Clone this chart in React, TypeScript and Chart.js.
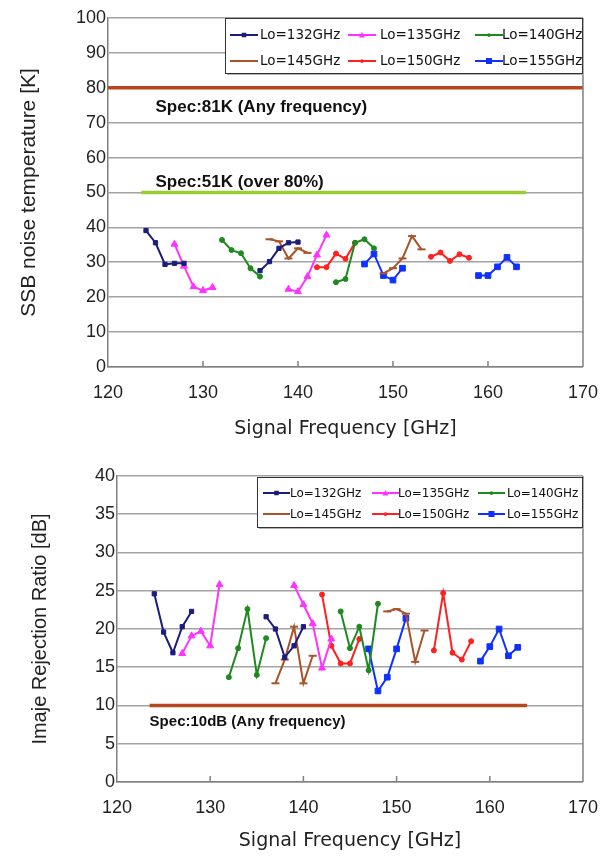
import React, { useEffect, useRef } from "react";
import { Chart, registerables } from "chart.js";

Chart.register(...registerables);

// ---------- data ----------
const loLabels = ["Lo=132GHz", "Lo=135GHz", "Lo=140GHz", "Lo=145GHz", "Lo=150GHz", "Lo=155GHz"];

const freq132 = [124, 125, 126, 127, 128, 132, 136, 137, 138, 139, 140];
const freq135 = [127, 128, 129, 130, 131, 135, 139, 140, 141, 142, 143];
const freq140 = [132, 133, 134, 135, 136, 140, 144, 145, 146, 147, 148];
const freq145 = [137, 138, 139, 140, 141, 145, 149, 150, 151, 152, 153];
const freq150 = [142, 143, 144, 145, 146, 150, 154, 155, 156, 157, 158];
const freq155 = [147, 148, 149, 150, 151, 155, 159, 160, 161, 162, 163];

// SSB noise temperature [K] (null = gap between LSB and USB)
const nt132 = [39.1, 35.6, 29.4, 29.7, 29.7, null, 27.6, 30.2, 34.0, 35.6, 35.8];
const nt135 = [35.2, 28.9, 23.0, 21.9, 22.8, null, 22.3, 21.6, 25.9, 32.1, 37.8];
const nt140 = [36.4, 33.5, 32.6, 28.3, 25.9, null, 24.3, 25.2, 35.6, 36.6, 34.0];
const nt145 = [36.6, 36.0, 31.1, 34.0, 32.7, null, 26.8, 28.3, 31.1, 37.5, 33.7];
const nt150 = [28.6, 28.6, 32.5, 31.0, 35.6, null, 31.6, 32.8, 30.4, 32.3, 31.3];
const nt155 = [29.5, 32.4, 26.2, 24.9, 28.3, null, 26.2, 26.2, 28.7, 31.4, 28.7];

// Image rejection ratio [dB]
const irr132 = [24.6, 19.6, 16.9, 20.3, 22.3, null, 21.6, 20.0, 16.3, 17.8, 20.3];
const irr135 = [16.8, 19.1, 19.7, 17.8, 25.8, null, 25.7, 23.2, 20.7, 14.9, 18.7];
const irr140 = [13.7, 17.5, 22.6, 14.0, 18.8, null, 22.3, 17.5, 20.3, 14.6, 23.3];
const irr145 = [12.9, 16.0, 20.3, 12.9, 16.5, null, 22.3, 22.6, 22.0, 15.7, 19.8];
const irr150 = [24.5, 17.8, 15.5, 15.5, 18.7, null, 17.2, 24.7, 16.9, 16.0, 18.4];
const irr155 = [17.4, 11.9, 13.7, 17.4, 21.4, null, 15.8, 17.7, 20.0, 16.5, 17.6];

// spec lines
const specNtAnyFreq = [120, 170];
const specNtAnyVal = [80, 80];
const specNt80Freq = [123.5, 164];
const specNt80Val = [50, 50];
const specIrrFreq = [123.5, 164];
const specIrrVal = [10, 10];

const specNtAnyText = "Spec:81K (Any frequency)";
const specNt80Text = "Spec:51K (over 80%)";
const specIrrText = "Spec:10dB (Any frequency)";

const xMin = 120;
const xMax = 170;

// ---------- styles ----------
const seriesStyles = [
  { color: "#1c1c7c", pointStyle: "rect", r: 3 },
  { color: "#ff33ff", pointStyle: "triangle", r: 4 },
  { color: "#1e8a1e", pointStyle: "circle", r: 2.5 },
  { color: "#a8532a", pointStyle: "line", r: 4 },
  { color: "#ff2020", pointStyle: "circle", r: 2.5 },
  { color: "#1030ff", pointStyle: "rect", r: 4 },
];
const specBrown = "#b8461b";
const specGreen = "#99cc33";
const FONT = "'Liberation Sans', Arial, sans-serif";

function pts(xs: number[], ys: (number | null)[]) {
  return xs.map((x, i) => ({ x, y: ys[i] }));
}

function drawMarker(ctx: CanvasRenderingContext2D, style: string, x: number, y: number, r: number, color: string) {
  ctx.save();
  ctx.fillStyle = color;
  ctx.strokeStyle = color;
  ctx.lineWidth = 1.5;
  ctx.beginPath();
  if (style === "rect") {
    ctx.fillRect(x - r, y - r, 2 * r, 2 * r);
  } else if (style === "triangle") {
    ctx.moveTo(x, y - r);
    ctx.lineTo(x + r, y + r * 0.8);
    ctx.lineTo(x - r, y + r * 0.8);
    ctx.closePath();
    ctx.fill();
  } else if (style === "circle") {
    ctx.arc(x, y, r, 0, Math.PI * 2);
    ctx.fill();
  }
  ctx.restore();
}

type LegendCfg = {
  w: number; h: number; rightOff: number; topOff: number;
  rows: number[]; lineX: number[]; textX: number[]; lineLen: number; font: string;
};

type SpecLabel = { x: number; y: number; text: string };

function makeOverlay(id: string, legend: LegendCfg, labels: SpecLabel[], labelFont: string) {
  return {
    id,
    afterDraw(chart: any) {
      const ctx: CanvasRenderingContext2D = chart.ctx;
      const a = chart.chartArea;
      const xs = chart.scales.x;
      const ys = chart.scales.y;
      ctx.save();
      // right frame
      ctx.strokeStyle = "#808080";
      ctx.lineWidth = 1.5;
      ctx.beginPath();
      ctx.moveTo(a.right, a.top);
      ctx.lineTo(a.right, a.bottom);
      ctx.stroke();
      // inner x ticks
      xs.ticks.forEach((t: any) => {
        if (t.value <= xMin || t.value >= xMax) return;
        const px = xs.getPixelForValue(t.value);
        ctx.beginPath();
        ctx.moveTo(px, a.bottom);
        ctx.lineTo(px, a.bottom - 6);
        ctx.stroke();
      });
      // spec labels
      ctx.fillStyle = "#111";
      ctx.font = labelFont;
      ctx.textAlign = "left";
      ctx.textBaseline = "middle";
      labels.forEach((l) => {
        ctx.fillText(l.text, xs.getPixelForValue(l.x), ys.getPixelForValue(l.y));
      });
      // legend box
      const bx = a.right - legend.rightOff - legend.w;
      const by = a.top + legend.topOff;
      ctx.fillStyle = "#b0b0b0";
      ctx.fillRect(bx + 2, by + 2, legend.w, legend.h);
      ctx.fillStyle = "#ffffff";
      ctx.fillRect(bx, by, legend.w, legend.h);
      ctx.strokeStyle = "#333";
      ctx.lineWidth = 1;
      ctx.strokeRect(bx + 0.5, by + 0.5, legend.w, legend.h);
      ctx.font = legend.font;
      ctx.textBaseline = "middle";
      loLabels.forEach((lab, i) => {
        const col = i % 3;
        const row = Math.floor(i / 3);
        const s = seriesStyles[i];
        const y0 = by + legend.rows[row];
        const x0 = bx + legend.lineX[col];
        ctx.strokeStyle = s.color;
        ctx.lineWidth = 2;
        ctx.beginPath();
        ctx.moveTo(x0, y0);
        ctx.lineTo(x0 + legend.lineLen, y0);
        ctx.stroke();
        drawMarker(ctx, s.pointStyle, x0 + legend.lineLen / 2, y0, s.r * 0.75, s.color);
        ctx.fillStyle = "#111";
        ctx.fillText(lab, bx + legend.textX[col], y0 + 0.5);
      });
      ctx.restore();
    },
  };
}

type ChartParams = {
  values: (number | null)[][];
  specs: { xs: number[]; ys: number[]; color: string }[];
  yMax: number; yStep: number; yTitle: string; yTitleSize: number;
  padTop: number; yWidth: number; xHeight: number;
  yTitlePad: number; xTickPad: number; xTitlePad: number;
  overlay: any;
};

const freqs = [freq132, freq135, freq140, freq145, freq150, freq155];

function makeConfig(p: ChartParams): any {
  const specDs = p.specs.map((s) => ({
    data: pts(s.xs, s.ys),
    borderColor: s.color,
    borderWidth: 3.5,
    pointRadius: 0,
    fill: false,
  }));
  const seriesDs = p.values.map((vals, i) => ({
    label: loLabels[i],
    data: pts(freqs[i], vals),
    borderColor: seriesStyles[i].color,
    backgroundColor: seriesStyles[i].color,
    borderWidth: 2,
    pointStyle: seriesStyles[i].pointStyle,
    pointRadius: seriesStyles[i].r,
    pointBorderWidth: seriesStyles[i].pointStyle === "line" ? 2 : 1,
    pointBackgroundColor: seriesStyles[i].color,
    pointBorderColor: seriesStyles[i].color,
    spanGaps: false,
    fill: false,
    tension: 0,
  }));
  return {
    type: "line",
    data: { datasets: [...specDs, ...seriesDs] },
    options: {
      responsive: false,
      animation: false,
      events: [],
      layout: { padding: { top: p.padTop, right: 30, left: 0, bottom: 0 } },
      plugins: { legend: { display: false }, tooltip: { enabled: false } },
      scales: {
        x: {
          type: "linear",
          min: xMin,
          max: xMax,
          ticks: { stepSize: 10, font: { family: FONT, size: 18 }, color: "#222", padding: p.xTickPad, maxRotation: 0 },
          grid: { drawOnChartArea: false, drawTicks: false },
          border: { color: "#808080", width: 1.5 },
          title: {
            display: true,
            text: "Signal Frequency [GHz]",
            font: { family: "'DejaVu Sans', sans-serif", size: 19 },
            color: "#222",
            padding: { top: 0, bottom: p.xTitlePad },
          },
          afterFit: (s: any) => { s.height = p.xHeight; },
        },
        y: {
          min: 0,
          max: p.yMax,
          ticks: { stepSize: p.yStep, font: { family: FONT, size: 18 }, color: "#222", padding: 2 },
          grid: { color: "#a3a3a3", lineWidth: 1.6, drawTicks: false },
          border: { color: "#808080", width: 1.5 },
          title: {
            display: true,
            text: p.yTitle,
            font: { family: FONT, size: p.yTitleSize },
            color: "#222",
            padding: { top: p.yTitlePad, bottom: 0 },
          },
          afterFit: (s: any) => { s.width = p.yWidth; },
        },
      },
    },
    plugins: [p.overlay],
  };
}

export default function App() {
  const topRef = useRef<HTMLCanvasElement | null>(null);
  const botRef = useRef<HTMLCanvasElement | null>(null);

  useEffect(() => {
    const topOverlay = makeOverlay(
      "topOverlay",
      { w: 357, h: 55, rightOff: 1, topOff: 0, rows: [17, 43], lineX: [5, 123, 250], textX: [35, 155, 277], lineLen: 28, font: "13.5px 'DejaVu Sans', sans-serif" },
      [
        { x: 125, y: 74.5, text: specNtAnyText },
        { x: 125, y: 53, text: specNt80Text },
      ],
      "bold 17px " + FONT
    );
    const botOverlay = makeOverlay(
      "botOverlay",
      { w: 325, h: 50, rightOff: 1, topOff: 1, rows: [16, 37], lineX: [6, 115, 221], textX: [33, 141, 250], lineLen: 27, font: "12px 'DejaVu Sans', sans-serif" },
      [{ x: 123.5, y: 7.9, text: specIrrText }],
      "bold 15px " + FONT
    );

    const top = new Chart(topRef.current as HTMLCanvasElement, makeConfig({
      values: [nt132, nt135, nt140, nt145, nt150, nt155],
      specs: [
        { xs: specNtAnyFreq, ys: specNtAnyVal, color: specBrown },
        { xs: specNt80Freq, ys: specNt80Val, color: specGreen },
      ],
      yMax: 100, yStep: 10, yTitle: "SSB noise temperature [K]", yTitleSize: 21,
      padTop: 18, yWidth: 108, xHeight: 78, yTitlePad: 17, xTickPad: 15, xTitlePad: 5,
      overlay: topOverlay,
    }));
    const bot = new Chart(botRef.current as HTMLCanvasElement, makeConfig({
      values: [irr132, irr135, irr140, irr145, irr150, irr155],
      specs: [{ xs: specIrrFreq, ys: specIrrVal, color: specBrown }],
      yMax: 40, yStep: 5, yTitle: "Imaje Rejection Ratio [dB]", yTitleSize: 20,
      padTop: 31, yWidth: 117, xHeight: 74, yTitlePad: 28, xTickPad: 15, xTitlePad: 4,
      overlay: botOverlay,
    }));
    return () => {
      top.destroy();
      bot.destroy();
    };
  }, []);

  return (
    <div style={{ position: "absolute", left: 0, top: 0, width: 613, height: 856, background: "#fff" }}>
      <canvas ref={topRef} width={613} height={445} style={{ position: "absolute", left: 0, top: 0, display: "block" }} />
      <canvas ref={botRef} width={613} height={411} style={{ position: "absolute", left: 0, top: 445, display: "block" }} />
    </div>
  );
}
